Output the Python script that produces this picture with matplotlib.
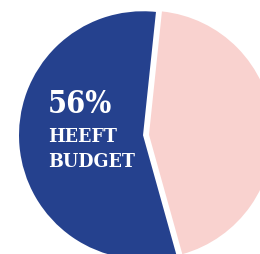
import matplotlib.pyplot as plt

shares = [56, 44]
colors = ["#25418e", "#f9d2cf"]
big_label = "56%"
small_label = ["HEEFT", "BUDGET"]

fig = plt.figure(figsize=(2.6, 2.55), dpi=100)
ax = fig.add_axes([0, 0, 1, 1])

# explode is in data units here (pixels), not a fraction of the radius
ax.pie(shares, colors=colors, startangle=84, center=(146, 119), radius=124,
       explode=[3, 3], wedgeprops=dict(linewidth=0))

# pie resets the view, so fix the pixel-like limits afterwards
ax.set_xlim(0, 260)
ax.set_ylim(0, 255)
ax.set_aspect("equal")
ax.axis("off")

ax.text(48, 142, big_label, color="white", fontsize=22, fontweight="bold",
        family="DejaVu Serif", fontstretch="condensed", va="baseline", ha="left")
ax.text(48, 113, small_label[0], color="white", fontsize=14, fontweight="bold",
        family="DejaVu Serif", fontstretch="condensed", va="baseline", ha="left")
ax.text(48, 88, small_label[1], color="white", fontsize=14, fontweight="bold",
        family="DejaVu Serif", fontstretch="condensed", va="baseline", ha="left")

fig.savefig("out.png", dpi=100)
